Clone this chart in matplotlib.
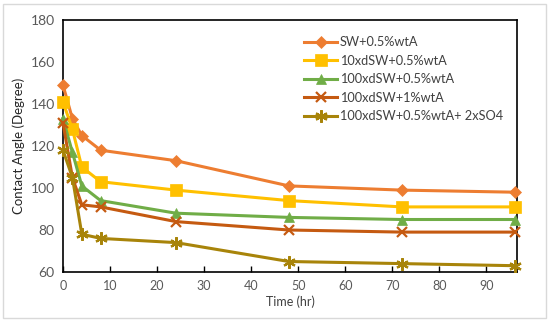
import matplotlib
matplotlib.use("Agg")
import matplotlib.pyplot as plt
from matplotlib.patches import Rectangle

plt.rcParams["font.family"] = ["Lato", "DejaVu Sans"]

time_hr = [0, 2, 4, 8, 24, 48, 72, 96]
series_labels = [
    "SW+0.5%wtA",
    "10xdSW+0.5%wtA",
    "100xdSW+0.5%wtA",
    "100xdSW+1%wtA",
    "100xdSW+0.5%wtA+ 2xSO4",
]
sw_05 = [149, 133, 125, 118, 113, 101, 99, 98]
d10_05 = [141, 128, 110, 103, 99, 94, 91, 91]
d100_05 = [133, 117, 101, 94, 88, 86, 85, 85]
d100_1 = [131, 105, 92, 91, 84, 80, 79, 79]
d100_05_so4 = [118, 105, 78, 76, 74, 65, 64, 63]

values = [sw_05, d10_05, d100_05, d100_1, d100_05_so4]
colors = ["#ED7D31", "#FFC000", "#70AD47", "#C55A11", "#A8840A"]
markers = ["D", "s", "^", "x", (6, 2, 0)]
msizes = [6, 8, 7, 7, 9]

fig = plt.figure(figsize=(5.5, 3.22), dpi=100)
ax = fig.add_axes([63 / 550, 1 - 272 / 322, (517 - 63) / 550, (272 - 20) / 322])

for vals, lab, c, m, ms in zip(values, series_labels, colors, markers, msizes):
    ax.plot(time_hr, vals, color=c, lw=2.2, marker=m, ms=ms,
            mew=1.6 if m in ("x",) or isinstance(m, tuple) else 0.5,
            mec=c, mfc=c, label=lab, clip_on=False, zorder=3)

ax.set_xlim(0, 96.5)
ax.set_ylim(60, 180)
ax.set_xticks(range(0, 100, 10))
ax.set_yticks(range(60, 181, 20))
ax.tick_params(axis="x", direction="in", length=4, width=1, colors="black",
               labelcolor="#595959", labelsize=9, pad=6)
ax.tick_params(axis="y", length=0, labelcolor="#595959", labelsize=10, pad=6)
for s in ax.spines.values():
    s.set_color("black")
    s.set_linewidth(1.2)

ax.set_xlabel("Time (hr)", fontsize=9, color="#404040", labelpad=2)
ax.set_ylabel("Contact Angle (Degree)", fontsize=9.5, color="#262626", labelpad=4)

leg = ax.legend(loc="upper left", bbox_to_anchor=(0.52, 0.955), frameon=False,
                fontsize=9.2, handlelength=2.6, labelspacing=0.5,
                handletextpad=0.2, borderaxespad=0)
for t in leg.get_texts():
    t.set_color("#404040")

fig.patches.append(Rectangle((3 / 550, 4 / 322), 543 / 550, 314 / 322,
                             transform=fig.transFigure, fill=False,
                             edgecolor="#D9D9D9", lw=1))

fig.savefig("out.png", dpi=100)
